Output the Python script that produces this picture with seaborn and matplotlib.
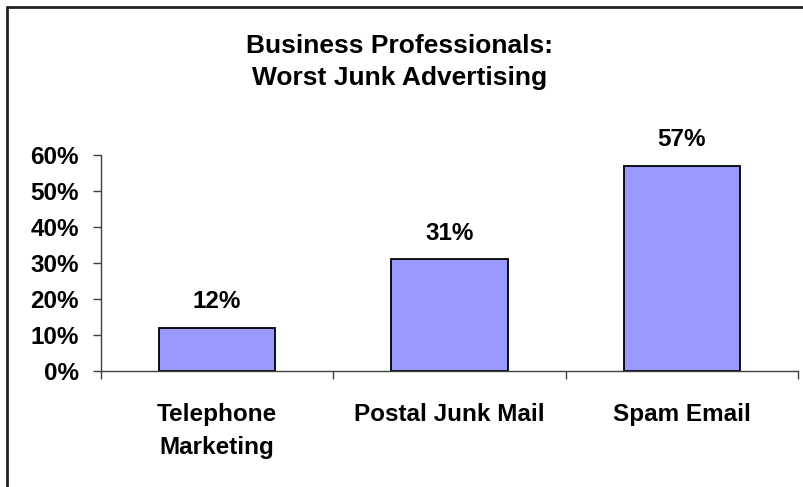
import matplotlib
matplotlib.use("Agg")
import matplotlib.pyplot as plt
import seaborn as sns
import pandas as pd
from matplotlib.lines import Line2D
from matplotlib.ticker import FixedLocator, FuncFormatter

categories = ["Telephone\nMarketing", "Postal Junk Mail", "Spam Email"]
values = [0.12, 0.31, 0.57]
yticks = [0.0, 0.1, 0.2, 0.3, 0.4, 0.5, 0.6]
title = "Business Professionals:\nWorst Junk Advertising"

sns.set_theme(style="white")
plt.rcParams['font.family'] = ['Liberation Sans', 'DejaVu Sans']
plt.rcParams['text.color'] = 'black'
plt.rcParams['xtick.color'] = 'black'
plt.rcParams['ytick.color'] = 'black'

W, H = 804, 487
fig = plt.figure(figsize=(W / 100, H / 100), dpi=100)
fig.patch.set_facecolor("white")
ax = fig.add_axes([101 / W, (H - 371) / H, (798 - 101) / W, (371 - 155) / H])

df = pd.DataFrame({"cat": categories, "val": values})
sns.barplot(data=df, x="cat", y="val", ax=ax, width=0.5, color="#9999FF",
            saturation=1, edgecolor="black", linewidth=1.3)

ax.set_xlim(-0.5, len(categories) - 0.5)
ax.set_ylim(0, 0.6)
ax.set_yticks(yticks)
ax.yaxis.set_major_formatter(FuncFormatter(lambda v, p: f"{v*100:.0f}%"))
ax.set_xlabel("")
ax.set_ylabel("")

ax.tick_params(axis="y", which="major", direction="out", length=6, width=1,
               color="#404040", labelcolor="black", labelsize=17.5, pad=10, left=True)
for t in ax.get_yticklabels():
    t.set_fontweight("bold")

ax.tick_params(axis="x", which="major", length=0, labelsize=17.5, labelcolor="black", pad=23)
ax.xaxis.set_minor_locator(FixedLocator([i - 0.5 for i in range(len(categories) + 1)]))
ax.tick_params(axis="x", which="minor", direction="out", length=6, width=1,
               color="#404040", bottom=True)
for t in ax.get_xticklabels():
    t.set_fontweight("bold")
    t.set_linespacing(1.55)

for s in ["top", "right"]:
    ax.spines[s].set_visible(False)
for s in ["left", "bottom"]:
    ax.spines[s].set_color("#404040")
    ax.spines[s].set_linewidth(1)

for i, v in enumerate(values):
    ax.annotate(f"{v*100:.0f}%", xy=(i, v), xytext=(0, 19), textcoords="offset points",
                ha="center", va="center", fontsize=17.5, fontweight="bold",
                color="black", annotation_clip=False)

fig.text(400 / W, 1 - 62 / H, title, ha="center", va="center", fontsize=19,
         fontweight="bold", linespacing=1.45, color="black")

fig.add_artist(Line2D([7.5 / W, 7.5 / W], [0, 1 - 6.5 / H], transform=fig.transFigure,
                      color="#222222", linewidth=2))
fig.add_artist(Line2D([7.5 / W, 1], [1 - 6.5 / H, 1 - 6.5 / H], transform=fig.transFigure,
                      color="#222222", linewidth=2))

fig.savefig("out.png", dpi=100, facecolor="white")
